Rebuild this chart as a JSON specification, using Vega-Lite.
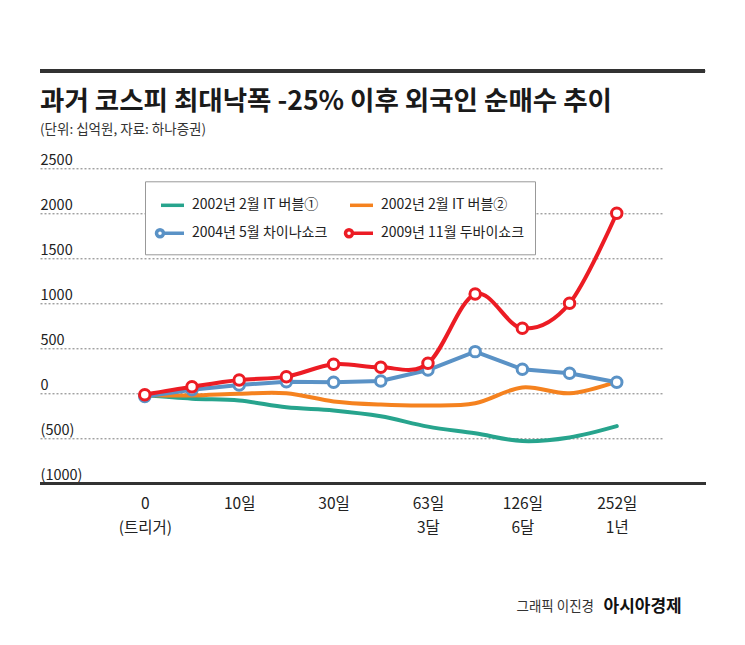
{
  "$schema": "https://vega.github.io/schema/vega-lite/v6.json",
  "width": 623,
  "height": 315,
  "autosize": {"type": "none"},
  "padding": {"left": 40, "top": 168.3, "right": 82, "bottom": 161.7},
  "background": "white",
  "title": {
    "text": "과거 코스피 최대낙폭 -25% 이후 외국인 순매수 추이",
    "subtitle": "(단위: 십억원, 자료: 하나증권)",
    "anchor": "start",
    "frame": "group",
    "font": "Noto Sans CJK KR",
    "fontSize": 26.5,
    "fontWeight": "bold",
    "color": "#1a1a1a",
    "subtitleFont": "Noto Sans CJK KR",
    "subtitleFontSize": 13.5,
    "subtitleColor": "#333333",
    "subtitlePadding": 8,
    "offset": 0,
    "dy": 67
  },
  "datasets": {
    "d": [
      {"i": 0, "s": "2002년 2월 IT 버블①", "v": -20},
      {"i": 1, "s": "2002년 2월 IT 버블①", "v": -60},
      {"i": 2, "s": "2002년 2월 IT 버블①", "v": -80},
      {"i": 3, "s": "2002년 2월 IT 버블①", "v": -155},
      {"i": 4, "s": "2002년 2월 IT 버블①", "v": -190},
      {"i": 5, "s": "2002년 2월 IT 버블①", "v": -255},
      {"i": 6, "s": "2002년 2월 IT 버블①", "v": -370},
      {"i": 7, "s": "2002년 2월 IT 버블①", "v": -445},
      {"i": 8, "s": "2002년 2월 IT 버블①", "v": -530},
      {"i": 9, "s": "2002년 2월 IT 버블①", "v": -490},
      {"i": 10, "s": "2002년 2월 IT 버블①", "v": -365},
      {"i": 0, "s": "2002년 2월 IT 버블②", "v": -20},
      {"i": 1, "s": "2002년 2월 IT 버블②", "v": -25},
      {"i": 2, "s": "2002년 2월 IT 버블②", "v": -5},
      {"i": 3, "s": "2002년 2월 IT 버블②", "v": 0},
      {"i": 4, "s": "2002년 2월 IT 버블②", "v": -90},
      {"i": 5, "s": "2002년 2월 IT 버블②", "v": -125},
      {"i": 6, "s": "2002년 2월 IT 버블②", "v": -135},
      {"i": 7, "s": "2002년 2월 IT 버블②", "v": -110},
      {"i": 8, "s": "2002년 2월 IT 버블②", "v": 65},
      {"i": 9, "s": "2002년 2월 IT 버블②", "v": 0},
      {"i": 10, "s": "2002년 2월 IT 버블②", "v": 130},
      {"i": 0, "s": "2004년 5월 차이나쇼크", "v": -35},
      {"i": 1, "s": "2004년 5월 차이나쇼크", "v": 40},
      {"i": 2, "s": "2004년 5월 차이나쇼크", "v": 92},
      {"i": 3, "s": "2004년 5월 차이나쇼크", "v": 129},
      {"i": 4, "s": "2004년 5월 차이나쇼크", "v": 122},
      {"i": 5, "s": "2004년 5월 차이나쇼크", "v": 137},
      {"i": 6, "s": "2004년 5월 차이나쇼크", "v": 259},
      {"i": 7, "s": "2004년 5월 차이나쇼크", "v": 463},
      {"i": 8, "s": "2004년 5월 차이나쇼크", "v": 267},
      {"i": 9, "s": "2004년 5월 차이나쇼크", "v": 222},
      {"i": 10, "s": "2004년 5월 차이나쇼크", "v": 122},
      {"i": 0, "s": "2009년 11월 두바이쇼크", "v": -15},
      {"i": 1, "s": "2009년 11월 두바이쇼크", "v": 73},
      {"i": 2, "s": "2009년 11월 두바이쇼크", "v": 148},
      {"i": 3, "s": "2009년 11월 두바이쇼크", "v": 185},
      {"i": 4, "s": "2009년 11월 두바이쇼크", "v": 322},
      {"i": 5, "s": "2009년 11월 두바이쇼크", "v": 289},
      {"i": 6, "s": "2009년 11월 두바이쇼크", "v": 333},
      {"i": 7, "s": "2009년 11월 두바이쇼크", "v": 1103},
      {"i": 8, "s": "2009년 11월 두바이쇼크", "v": 722},
      {"i": 9, "s": "2009년 11월 두바이쇼크", "v": 1000},
      {"i": 10, "s": "2009년 11월 두바이쇼크", "v": 2000}
    ]
  },
  "data": {"name": "d"},
  "layer": [
    {
      "transform": [{"filter": {"field": "s", "oneOf": ["2002년 2월 IT 버블①", "2002년 2월 IT 버블②"]}}],
      "mark": {"type": "line", "interpolate": "cardinal", "strokeWidth": 4, "strokeCap": "round"},
      "encoding": {
        "x": {
          "field": "i", "type": "quantitative",
          "scale": {"domain": [-2.22, 10.98], "nice": false, "zero": false},
          "axis": {
            "values": [0, 2, 4, 6, 8, 10],
            "labelExpr": "datum.value == 0 ? ['0', '(트리거)'] : datum.value == 2 ? '10일' : datum.value == 4 ? '30일' : datum.value == 6 ? ['63일', '3달'] : datum.value == 8 ? ['126일', '6달'] : ['252일', '1년']",
            "domain": false, "ticks": false, "tickSize": 0, "grid": false,
            "labelPadding": 13, "labelFontSize": 15.5, "labelLineHeight": 24,
            "labelColor": "#222222", "labelAngle": 0, "labelFlush": false, "labelOverlap": false,
            "title": "아시아경제", "titleX": 563, "titleY": 123, "titleAlign": "left", "titleBaseline": "middle",
            "titleFontSize": 17, "titleFontWeight": "bold", "titleColor": "#111111"
          }
        },
        "y": {
          "field": "v", "type": "quantitative",
          "scale": {"domain": [-1000, 2500], "nice": false, "zero": false},
          "axis": {
            "values": [-1000, -500, 0, 500, 1000, 1500, 2000, 2500],
            "labelExpr": "datum.value < 0 ? '(' + (-datum.value) + ')' : '' + datum.value",
            "grid": true, "gridDash": [2, 2], "gridColor": "#7a7a7a", "gridWidth": 1,
            "domain": false, "ticks": false, "tickSize": 0,
            "labelAlign": "left", "labelPadding": 0, "labelBaseline": "alphabetic", "labelOffset": -4,
            "labelFontSize": 14.5, "labelColor": "#222222", "labelFlush": false, "labelOverlap": false,
            "title": "그래픽 이진경", "titleAngle": 0, "titleX": 476, "titleY": 437.7,
            "titleAlign": "left", "titleBaseline": "middle", "titleFontSize": 13.5,
            "titleFontWeight": "normal", "titleColor": "#333333"
          }
        },
        "stroke": {
          "field": "s", "type": "nominal",
          "scale": {
            "domain": ["2002년 2월 IT 버블①", "2002년 2월 IT 버블②", "2004년 5월 차이나쇼크", "2009년 11월 두바이쇼크"],
            "range": ["#27a48d", "#f5821f", "#5a92c6", "#ec1c24"]
          },
          "legend": {
            "title": null, "orient": "none", "legendX": 105, "legendY": 13,
            "direction": "horizontal",
            "columns": 2, "columnPadding": 2, "rowPadding": 7, "padding": 10,
            "gridAlign": "all",
            "symbolType": "stroke",
            "symbolSize": 400, "symbolStrokeWidth": 3.5, "symbolOpacity": 1, "symbolOffset": 3,
            "labelFontSize": 14, "labelColor": "#222222", "labelOffset": 10, "labelLimit": 300,
            "strokeColor": "#999999", "fillColor": "white",
            "encoding": {
              "symbols": {
                "shape": {"value": {"expr": "(datum.value == '2004년 5월 차이나쇼크' || datum.value == '2009년 11월 두바이쇼크') ? 'M-1.35,0A0.35,0.35 0 1,1 -0.65,0A0.35,0.35 0 1,1 -1.35,0Z M-0.65,0L1.4,0' : 'M-0.9,0L1.4,0'"}},
                "fill": {"value": "white"}
              }
            }
          }
        }
      }
    },
    {
      "transform": [{"filter": {"field": "s", "equal": "2004년 5월 차이나쇼크"}}],
      "mark": {"type": "line", "strokeWidth": 4, "strokeCap": "round"},
      "encoding": {
        "x": {"field": "i", "type": "quantitative"},
        "y": {"field": "v", "type": "quantitative"},
        "stroke": {"field": "s", "type": "nominal"}
      }
    },
    {
      "transform": [{"filter": {"field": "s", "equal": "2004년 5월 차이나쇼크"}}],
      "mark": {"type": "point", "shape": "circle", "filled": false, "fill": "white", "fillOpacity": 1, "size": 110, "strokeWidth": 3},
      "encoding": {
        "x": {"field": "i", "type": "quantitative"},
        "y": {"field": "v", "type": "quantitative"},
        "stroke": {"field": "s", "type": "nominal"}
      }
    },
    {
      "transform": [{"filter": {"field": "s", "equal": "2009년 11월 두바이쇼크"}}],
      "mark": {"type": "line", "interpolate": "cardinal", "strokeWidth": 4, "strokeCap": "round"},
      "encoding": {
        "x": {"field": "i", "type": "quantitative"},
        "y": {"field": "v", "type": "quantitative"},
        "stroke": {"field": "s", "type": "nominal"}
      }
    },
    {
      "transform": [{"filter": {"field": "s", "equal": "2009년 11월 두바이쇼크"}}],
      "mark": {"type": "point", "shape": "circle", "filled": false, "fill": "white", "fillOpacity": 1, "size": 110, "strokeWidth": 3},
      "encoding": {
        "x": {"field": "i", "type": "quantitative"},
        "y": {"field": "v", "type": "quantitative"},
        "stroke": {"field": "s", "type": "nominal"}
      }
    },
    {
      "mark": {"type": "rule", "stroke": "#333333", "strokeWidth": 2.5},
      "encoding": {
        "x": {"datum": -2.22},
        "x2": {"datum": 11.88},
        "y": {"datum": -1000}
      }
    },
    {
      "mark": {"type": "rule", "stroke": "#333333", "strokeWidth": 3},
      "encoding": {
        "x": {"datum": -2.22},
        "x2": {"datum": 11.87},
        "y": {"datum": 3581}
      }
    }
  ],
  "config": {
    "font": "Noto Sans CJK KR",
    "view": {"stroke": null},
    "axis": {"labelFont": "Noto Sans CJK KR", "titleFont": "Noto Sans CJK KR"},
    "legend": {"labelFont": "Noto Sans CJK KR"}
  }
}
